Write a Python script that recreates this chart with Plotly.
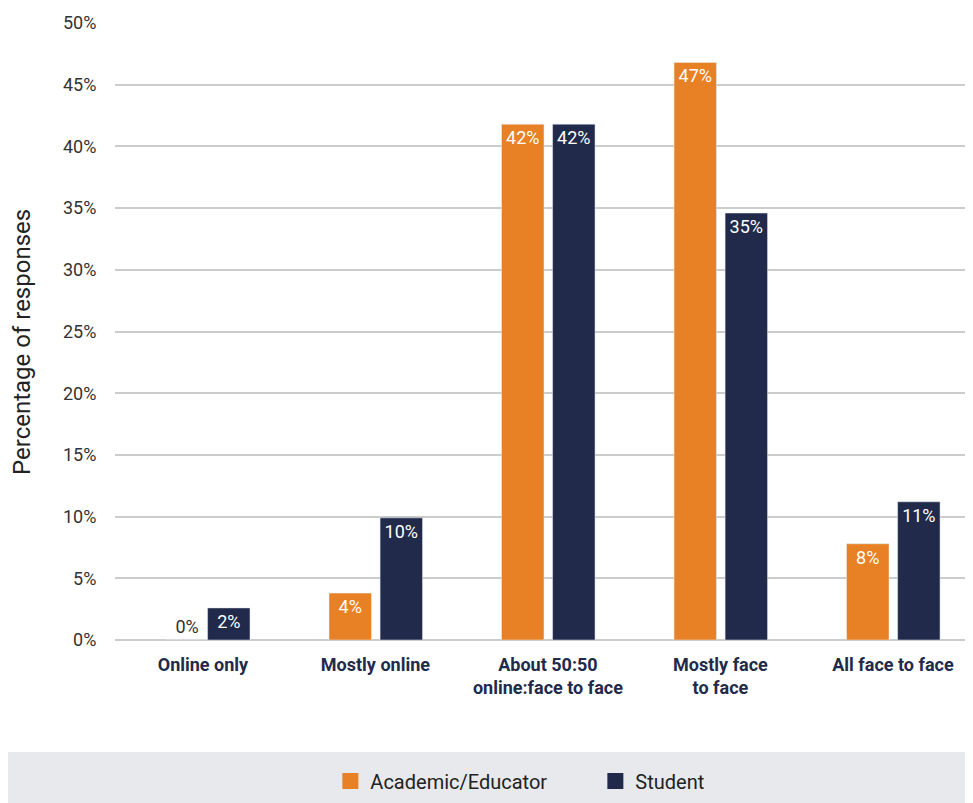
import plotly.graph_objects as go

categories = ["Online only", "Mostly online", "About 50:50<br>online:face to face",
              "Mostly face<br>to face", "All face to face"]
academic = [0, 3.8, 41.8, 46.8, 7.8]
student = [2.6, 9.9, 41.8, 34.6, 11.2]
academic_labels = ["0%", "4%", "42%", "47%", "8%"]
student_labels = ["2%", "10%", "42%", "35%", "11%"]
y_ticks = [0, 5, 10, 15, 20, 25, 30, 35, 40, 45, 50]
y_tick_labels = [f"{v}%" for v in y_ticks]
series_names = ["Academic/Educator", "Student"]

ORANGE = "#E88125"
NAVY = "#222A4B"
xs = list(range(len(categories)))

BAR_W = 0.246
# zero-height bars: label sits just left of the partner bar
acad_offsets = [-0.215 if v == 0 else -0.269 for v in academic]

fig = go.Figure()
fig.add_trace(go.Bar(
    name=series_names[0], x=xs, y=academic, marker_color=ORANGE,
    width=BAR_W, offset=acad_offsets, showlegend=False,
    text=academic_labels, textposition=["outside" if v == 0 else "inside" for v in academic],
    insidetextanchor="end", insidetextfont=dict(color="white", size=18, family="Roboto"),
    outsidetextfont=dict(color="#333333", size=18, family="Roboto"),
    textangle=0, cliponaxis=False,
))
fig.add_trace(go.Bar(
    name=series_names[1], x=xs, y=student, marker_color=NAVY,
    width=BAR_W, offset=0.027, showlegend=False,
    text=student_labels, textposition="inside",
    insidetextanchor="end", insidetextfont=dict(color="white", size=18, family="Roboto"),
    textangle=0, cliponaxis=False,
))
# legend entries with larger square swatches
for nm, col in zip(series_names, [ORANGE, NAVY]):
    fig.add_trace(go.Scatter(x=[None], y=[None], mode="markers", name=nm,
                             marker=dict(symbol="square", size=18, color=col)))

fig.add_shape(type="rect", xref="paper", yref="paper",
              x0=-0.1247, x1=1.0, y0=-0.264, y1=-0.1815,
              fillcolor="#E8E9ED", line=dict(width=0), layer="below")

fig.add_annotation(text="Percentage of responses", xref="paper", yref="paper",
                   x=-0.1084, y=0.483, textangle=-90, showarrow=False,
                   xanchor="center", yanchor="middle",
                   font=dict(size=24, color="#222222", family="Roboto"))

fig.update_layout(
    width=965, height=795,
    margin=dict(l=107, r=0, t=15, b=163),
    paper_bgcolor="white", plot_bgcolor="white",
    font=dict(family="Roboto", color="#333333"),
    showlegend=True,
    legend=dict(orientation="h", x=0.251, xanchor="left", y=-0.2285, yanchor="middle",
                bgcolor="rgba(0,0,0,0)", font=dict(size=20, color="#222222"),
                itemsizing="trace", traceorder="normal",
                entrywidth=220, entrywidthmode="pixels"),
    xaxis=dict(
        tickmode="array", tickvals=xs,
        ticktext=[f"<b>{c}</b>" for c in categories],
        tickfont=dict(size=18, color=NAVY, family="Roboto"),
        range=[-0.5096, 4.464], showgrid=False, zeroline=False, showline=False,
        ticks="outside", ticklen=8, tickcolor="rgba(0,0,0,0)",
        fixedrange=True,
    ),
    yaxis=dict(
        range=[0, 50], tickmode="array", tickvals=y_ticks, ticktext=y_tick_labels,
        tickfont=dict(size=18, color="#333333"),
        showgrid=True, gridcolor="#CCCCCC", gridwidth=1.5,
        zeroline=True, zerolinecolor="#CCCCCC", zerolinewidth=1.5,
        ticks="outside", ticklen=14, tickcolor="rgba(0,0,0,0)",
        automargin=False,
    ),
)

fig.write_html("out.html")
